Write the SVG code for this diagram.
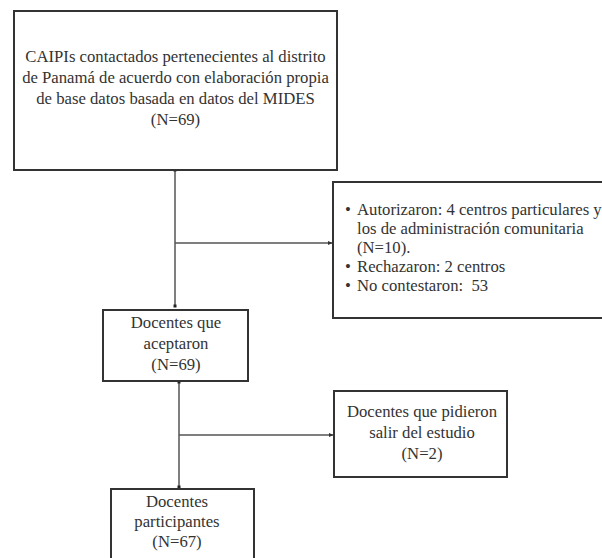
<svg xmlns="http://www.w3.org/2000/svg" width="602" height="558" viewBox="0 0 602 558">
<style>
.box{fill:#fff;stroke:#333;stroke-width:2}
text{font-family:'Liberation Serif','Times New Roman','DejaVu Serif',serif;font-size:16.7px;fill:#333}
.c{text-anchor:middle}
.ln{stroke:#555;stroke-width:1.5;fill:none}
.dot{fill:#222}
</style>
<defs>
<marker id="ah" markerWidth="5" markerHeight="5" refX="4" refY="2.5" orient="auto" markerUnits="userSpaceOnUse">
<path d="M0,0.5 L4.5,2.5 L0,4.5 Z" fill="#333"/>
</marker>
</defs>
<rect width="602" height="558" fill="#fff"/>
<g id="connectors">
<path class="ln" d="M175,170 V306"/>
<path class="ln" d="M175,243 H332" marker-end="url(#ah)"/>
<rect class="dot" x="173.5" y="168.5" width="3" height="3"/>
<rect class="dot" x="173.5" y="304.5" width="3" height="3"/>
<path class="ln" d="M179,381 V487"/>
<path class="ln" d="M179,435 H333" marker-end="url(#ah)"/>
<rect class="dot" x="177.5" y="380.5" width="3" height="3"/>
<rect class="dot" x="177.5" y="485.5" width="3" height="3"/>
</g>
<g id="n1">
<rect class="box" x="14" y="11" width="323" height="159"/>
<text class="c" x="175.5" y="62">CAIPIs contactados pertenecientes al distrito</text>
<text class="c" x="175.5" y="83">de Panamá de acuerdo con elaboración propia</text>
<text class="c" x="175.5" y="104">de base datos basada en datos del MIDES</text>
<text class="c" x="175.5" y="125">(N=69)</text>
</g>
<g id="n2">
<rect class="box" x="333" y="182" width="280" height="136"/>
<text x="345" y="215">•</text>
<text x="357" y="215">Autorizaron: 4 centros particulares y</text>
<text x="357" y="234">los de administración comunitaria</text>
<text x="357" y="253">(N=10).</text>
<text x="345" y="272">•</text>
<text x="357" y="272">Rechazaron: 2 centros</text>
<text x="345" y="291">•</text>
<text x="357" y="291">No contestaron:&#160; 53</text>
</g>
<g id="n3">
<rect class="box" x="103" y="310" width="145" height="71"/>
<text class="c" x="176" y="328">Docentes que</text>
<text class="c" x="176" y="349">aceptaron</text>
<text class="c" x="176" y="370">(N=69)</text>
</g>
<g id="n4">
<rect class="box" x="334" y="391" width="173" height="86"/>
<text class="c" x="422" y="417">Docentes que pidieron</text>
<text class="c" x="422" y="438">salir del estudio</text>
<text class="c" x="422" y="459">(N=2)</text>
</g>
<g id="n5">
<rect class="box" x="111" y="489" width="143" height="80"/>
<text class="c" x="177" y="507">Docentes</text>
<text class="c" x="177" y="527">participantes</text>
<text class="c" x="177" y="547">(N=67)</text>
</g>
</svg>
